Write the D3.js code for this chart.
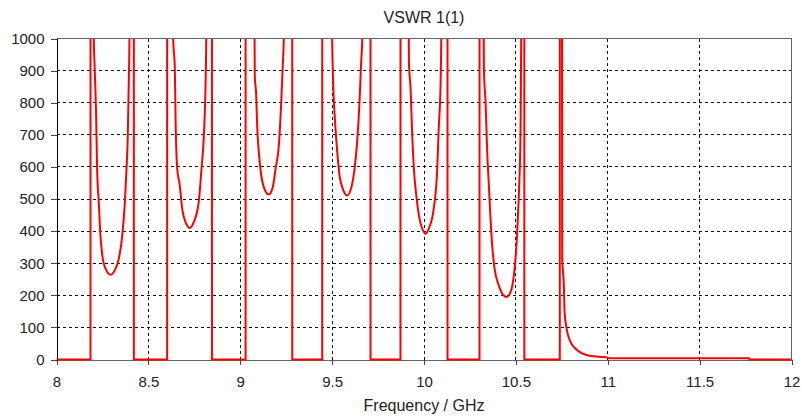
<!DOCTYPE html>
<html>
<head>
<meta charset="utf-8">
<script src="https://cdn.jsdelivr.net/npm/d3@7"></script>
<style>
  body { margin: 0; background: #fff; }
  text { font-family: "Liberation Sans", Arial, sans-serif; fill: #222; }
</style>
</head>
<body>
<svg id="chart" width="802" height="419"></svg>
<script>
// Frequency sweep (GHz) and VSWR of port 1.
// Values of 1e4 mark the resonance peaks that run far above the 1000 ceiling.
const freq = [
  8.000, 8.185, 8.186,
  8.203, 8.208, 8.216, 8.221, 8.230, 8.239, 8.249, 8.267, 8.294, 8.321, 8.339, 8.358, 8.372, 8.381, 8.388, 8.393, 8.397,
  8.420, 8.421, 8.602, 8.603,
  8.635, 8.644, 8.648, 8.657, 8.671, 8.684, 8.702, 8.725, 8.747, 8.774, 8.789, 8.802, 8.811, 8.815,
  8.845, 8.846, 9.029, 9.030,
  9.078, 9.079, 9.087, 9.092, 9.101, 9.114, 9.128, 9.155, 9.177, 9.192, 9.210, 9.223, 9.232, 9.237,
  9.282, 9.283, 9.446, 9.447,
  9.500, 9.506, 9.515, 9.528, 9.540, 9.555, 9.582, 9.605, 9.622, 9.636, 9.649, 9.658, 9.664,
  9.708, 9.709, 9.872, 9.873,
  9.917, 9.918, 9.927, 9.936, 9.945, 9.958, 9.972, 9.990, 10.008, 10.026, 10.053, 10.072, 10.080, 10.090, 10.094,
  10.127, 10.128, 10.302, 10.303,
  10.325, 10.326, 10.335, 10.344, 10.353, 10.362, 10.371, 10.384, 10.407, 10.426, 10.449, 10.471, 10.489, 10.502, 10.513, 10.521, 10.525, 10.529,
  10.545, 10.546, 10.739, 10.740,
  10.752, 10.761, 10.765, 10.776, 10.797, 10.834, 10.888, 10.961, 10.998, 11.002, 11.770, 11.771, 12.000
];
const vswr = [
  0, 0, 1e4,
  1000, 906, 750, 594, 490, 387, 325, 283, 264, 283, 314, 387, 490, 594, 698, 854, 1000,
  1e4, 0, 0, 1e4,
  1000, 906, 750, 594, 542, 470, 428, 410, 428, 490, 594, 698, 854, 1000,
  1e4, 0, 0, 1e4,
  1000, 885, 822, 729, 646, 574, 537, 514, 537, 594, 667, 802, 926, 1000,
  1e4, 0, 0, 1e4,
  1000, 854, 750, 646, 574, 537, 511, 537, 594, 677, 802, 926, 1000,
  1e4, 0, 0, 1e4,
  1000, 926, 843, 698, 594, 511, 449, 408, 392, 408, 470, 594, 719, 854, 1000,
  1e4, 0, 0, 1e4,
  1000, 906, 802, 646, 542, 439, 356, 283, 231, 205, 195, 210, 262, 345, 470, 594, 698, 1000,
  1e4, 0, 0, 1e4,
  319, 231, 148, 96, 55, 29, 13, 8, 6, 4, 4, 0, 0
];
const xTicks = [8, 8.5, 9, 9.5, 10, 10.5, 11, 11.5, 12];
const yTicks = [0, 100, 200, 300, 400, 500, 600, 700, 800, 900, 1000];

const svg = d3.select("#chart");
const W = 802, H = 419;
const m = { left: 56.5, right: 10.5, top: 38.5, bottom: 59.5 };

const x = d3.scaleLinear().domain([8, 12]).range([m.left, W - m.right]);
const y = d3.scaleLinear().domain([0, 1000]).range([H - m.bottom, m.top]);

// dashed grid
const grid = svg.append("g").attr("stroke", "#111").attr("stroke-width", 1)
  .attr("stroke-dasharray", "3,3").attr("shape-rendering", "crispEdges");
grid.selectAll("line.h").data(yTicks.filter(v => v > 0 && v < 1000)).join("line")
  .attr("x1", m.left).attr("x2", W - m.right)
  .attr("y1", d => y(d)).attr("y2", d => y(d));
grid.selectAll("line.v").data(xTicks.filter(v => v > 8 && v < 12)).join("line")
  .attr("y1", m.top).attr("y2", H - m.bottom)
  .attr("x1", d => x(d)).attr("x2", d => x(d));

// axes
const xAxis = svg.append("g").attr("transform", `translate(0,${H - m.bottom})`)
  .call(d3.axisBottom(x).tickValues(xTicks).tickFormat(d3.format("~g")).tickSize(5).tickPadding(12));
const yAxis = svg.append("g").attr("transform", `translate(${m.left},0)`)
  .call(d3.axisLeft(y).tickValues(yTicks).tickFormat(d3.format("d")).tickSize(6).tickPadding(6));
xAxis.select(".domain").attr("stroke", "#666");
xAxis.selectAll(".tick line").attr("stroke", "#444");
yAxis.select(".domain").attr("stroke", "#000");
yAxis.selectAll(".tick line").attr("stroke", "#444");
[xAxis, yAxis].forEach(a => a.selectAll("text").attr("font-size", 15)
  .attr("font-family", "Liberation Sans, Arial, sans-serif").attr("fill", "#222"));
xAxis.attr("shape-rendering", "crispEdges");
yAxis.attr("shape-rendering", "crispEdges");

// VSWR trace
svg.append("clipPath").attr("id", "plot-clip").append("rect")
  .attr("x", m.left).attr("y", m.top).attr("width", W - m.right - m.left)
  .attr("height", H - m.bottom - m.top + 2);
const pts = freq.map((f, i) => [f, vswr[i]]);
svg.append("path").datum(pts)
  .attr("clip-path", "url(#plot-clip)")
  .attr("fill", "none").attr("stroke", "#ff0000").attr("stroke-width", 2)
  .attr("stroke-linejoin", "round")
  .attr("d", d3.line().curve(d3.curveMonotoneX).x(d => x(d[0])).y(d => y(d[1])));

// top and right frame
svg.append("path")
  .attr("d", `M${m.left},${m.top}H${W - m.right}V${H - m.bottom}`)
  .attr("fill", "none").attr("stroke", "#666").attr("shape-rendering", "crispEdges");

// titles
svg.append("text").attr("x", (m.left + W - m.right) / 2).attr("y", 23)
  .attr("text-anchor", "middle").attr("font-size", 16).text("VSWR 1(1)");
svg.append("text").attr("x", (m.left + W - m.right) / 2).attr("y", 411)
  .attr("text-anchor", "middle").attr("font-size", 16).text("Frequency / GHz");
</script>
</body>
</html>
